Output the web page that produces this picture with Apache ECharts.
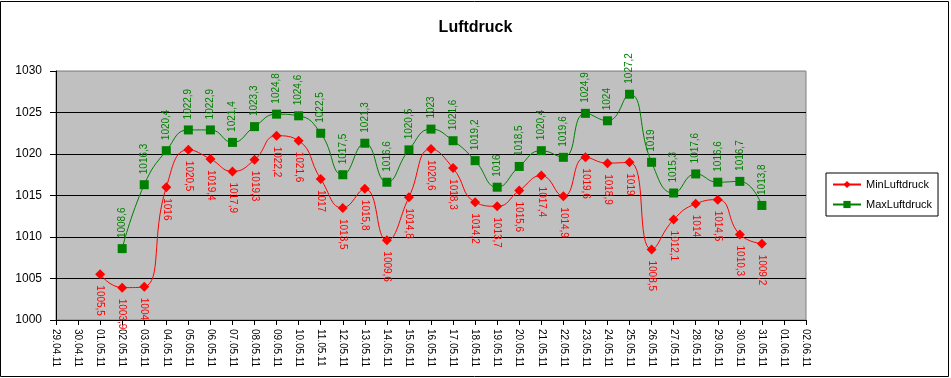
<!DOCTYPE html>
<html><head><meta charset="utf-8">
<script src="https://cdn.jsdelivr.net/npm/echarts@6/dist/echarts.min.js"></script>
<style>html,body{margin:0;padding:0;background:#fff}#c{width:951px;height:378px}</style>
</head><body><div id="c"></div>
<script>
var categories = ['29.04.11','30.04.11','01.05.11','02.05.11','03.05.11','04.05.11','05.05.11','06.05.11','07.05.11','08.05.11','09.05.11','10.05.11','11.05.11','12.05.11','13.05.11','14.05.11','15.05.11','16.05.11','17.05.11','18.05.11','19.05.11','20.05.11','21.05.11','22.05.11','23.05.11','24.05.11','25.05.11','26.05.11','27.05.11','28.05.11','29.05.11','30.05.11','31.05.11','01.06.11','02.06.11'];
var minLuftdruck = [null,null,1005.5,1003.9,1004,1016,1020.5,1019.4,1017.9,1019.3,1022.2,1021.6,1017,1013.5,1015.8,1009.6,1014.8,1020.6,1018.3,1014.2,1013.7,1015.6,1017.4,1014.9,1019.6,1018.9,1019,1008.5,1012.1,1014,1014.5,1010.3,1009.2,null,null];
var maxLuftdruck = [null,null,null,1008.6,1016.3,1020.4,1022.9,1022.9,1021.4,1023.3,1024.8,1024.6,1022.5,1017.5,1021.3,1016.6,1020.5,1023,1021.6,1019.2,1016,1018.5,1020.4,1019.6,1024.9,1024,1027.2,1019,1015.3,1017.6,1016.6,1016.7,1013.8,null,null];
var yTicks = {min:1000, max:1030, interval:5};

function fmt(p){ return String(p.value).replace('.', ','); }
var chart = echarts.init(document.getElementById('c'));
chart.setOption({
  animation:false,
  backgroundColor:'#fff',
  textStyle:{fontFamily:'Liberation Sans, Arial, sans-serif'},
  title:{text:'Luftdruck', left:'center', top:15, textStyle:{fontSize:16, fontWeight:'bold', color:'#000', fontFamily:'Liberation Sans, Arial, sans-serif'}},
  legend:{orient:'vertical', left:826, top:173, padding:[6,6,6,6], itemGap:9, itemWidth:28, itemHeight:9,
    borderColor:'#000', borderWidth:1, borderRadius:0,
    textStyle:{fontSize:11, color:'#000'}, data:['MinLuftdruck','MaxLuftdruck']},
  grid:{left:56, right:145, top:71, bottom:58, show:true, backgroundColor:'#C0C0C0', borderColor:'#808080', borderWidth:1},
  xAxis:{type:'category', data:categories, boundaryGap:false,
    axisLine:{lineStyle:{color:'#000'}}, axisTick:{show:true, alignWithLabel:true, length:5, lineStyle:{color:'#000'}, interval:0},
    axisLabel:{rotate:-90, interval:0, fontSize:10, color:'#000', margin:9}},
  yAxis:{type:'value', min:yTicks.min, max:yTicks.max, interval:yTicks.interval,
    axisLine:{show:true, lineStyle:{color:'#000'}}, axisTick:{show:true, length:6, lineStyle:{color:'#000'}},
    axisLabel:{fontSize:12, color:'#000', margin:14, formatter:function(v){return String(v);}},
    splitLine:{lineStyle:{color:['#000','#000','#000','#000','#000','#000','#999'], width:1}}},
  series:[
    {name:'MinLuftdruck', type:'line', data:minLuftdruck, smooth:0.5, connectNulls:false,
     symbol:'diamond', symbolSize:10, itemStyle:{color:'#FF0000'}, lineStyle:{color:'#FF0000', width:1},
     label:{show:true, position:'bottom', distance:6, rotate:-90, align:'left', verticalAlign:'middle', fontSize:10, color:'#FF0000', formatter:fmt}},
    {name:'MaxLuftdruck', type:'line', data:maxLuftdruck, smooth:0.5, connectNulls:false,
     symbol:'rect', symbolSize:9, itemStyle:{color:'#008000'}, lineStyle:{color:'#008000', width:1},
     label:{show:true, position:'top', distance:6, rotate:90, align:'left', verticalAlign:'middle', fontSize:10, color:'#008000', formatter:fmt}}
  ],
  graphic:[{type:'rect', shape:{x:0.5, y:1.5, width:948, height:375}, style:{fill:null, stroke:'#000', lineWidth:1}, silent:true}]
});
</script></body></html>
